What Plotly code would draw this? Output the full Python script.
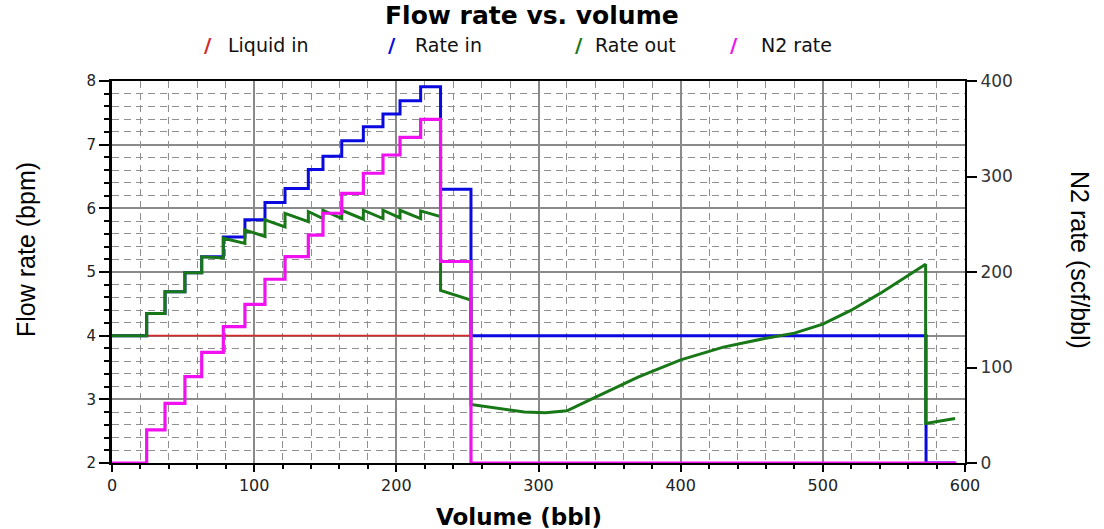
import plotly.graph_objects as go

# ---- data ----
# Step boundaries (bbl) shared by the injection schedule
step_x = [0, 24.4, 37.3, 51.3, 63.1, 78.3, 93.5, 107.6, 121.7, 138.1, 148.4,
          161.6, 176.8, 190.6, 202.6, 217.1, 231.1, 252.5]

# Liquid in (bpm)
liquid_x = [0, 252.5]
liquid_y = [4.0, 4.0]

# Rate in (bpm), step ("hv") series
rate_in_x = step_x + [572.6, 593]
rate_in_y = [4.0, 4.35, 4.69, 4.99, 5.24, 5.55, 5.82, 6.09, 6.31, 6.61, 6.82,
             7.06, 7.28, 7.48, 7.69, 7.91, 6.30, 4.0, 2.0, 2.0]

# N2 rate (scf/bbl), step ("hv") series on right axis
n2_x = step_x + [594]
n2_y = [0, 34.6, 62.5, 90.4, 115.9, 142.7, 166.2, 192.4, 216, 238.7, 261.5,
        282.4, 303.4, 322.5, 341, 359.9, 211, 0, 0]

# Rate out (bpm)
rate_out_x = [0, 24.4, 24.4, 37.3, 37.3, 51.3, 51.3, 63.1, 63.1, 78.3, 78.3,
              93.5, 93.5, 107.6, 107.6, 121.7, 121.7, 138.1, 138.1, 148.4, 148.4,
              161.6, 161.6, 176.8, 176.8, 190.6, 190.6, 202.6, 202.6, 217.1, 217.1,
              231.1, 231.1, 252.5, 252.5, 270, 290, 305, 320, 335, 350, 370, 400,
              430, 460, 480, 500, 520, 540, 555, 572.3, 572.3, 593]
rate_out_y = [4.0, 4.0, 4.35, 4.35, 4.69, 4.69, 4.99, 4.99, 5.24, 5.22, 5.53,
              5.45, 5.66, 5.56, 5.82, 5.71, 5.92, 5.79, 5.95, 5.84, 5.97,
              5.84, 5.97, 5.83, 5.97, 5.84, 5.97, 5.85, 5.97, 5.84, 5.96,
              5.87, 4.71, 4.56, 2.92, 2.86, 2.80, 2.79, 2.82, 2.98, 3.14, 3.35, 3.62,
              3.82, 3.96, 4.04, 4.18, 4.40, 4.66, 4.87, 5.12, 2.62, 2.70]

series_names = ["Liquid in", "Rate in", "Rate out", "N2 rate"]
series_colors = ["#d42a2a", "#0a0ae0", "#187818", "#f010f0"]

x_ticks = [0, 100, 200, 300, 400, 500, 600]
left_ticks = [2, 3, 4, 5, 6, 7, 8]
right_ticks = [0, 100, 200, 300, 400]

# ---- figure ----
fig = go.Figure()
fig.add_trace(go.Scatter(x=liquid_x, y=liquid_y, mode="lines", name=series_names[0],
                         line=dict(color=series_colors[0], width=1.6)))
fig.add_trace(go.Scatter(x=rate_in_x, y=rate_in_y, mode="lines", name=series_names[1],
                         line=dict(color=series_colors[1], width=3, shape="hv")))
fig.add_trace(go.Scatter(x=rate_out_x, y=rate_out_y, mode="lines", name=series_names[2],
                         line=dict(color=series_colors[2], width=3)))
fig.add_trace(go.Scatter(x=n2_x, y=n2_y, mode="lines", name=series_names[3], yaxis="y2",
                         line=dict(color=series_colors[3], width=3.2, shape="hv")))

L, R, T, B = 112, 139, 81, 66
W, H = 1104, 529
pw, ph = W - L - R, H - T - B


def px(xp):
    return (xp - L) / pw


def py(yp):
    return (H - B - yp) / ph


tick_font = dict(family="DejaVu Sans", size=15, color="#222")
grid_dash = "7px,5px"

fig.update_layout(
    width=W, height=H,
    margin=dict(l=L, r=R, t=T, b=B),
    paper_bgcolor="white", plot_bgcolor="white",
    showlegend=False,
    xaxis=dict(range=[0, 600], tickvals=x_ticks, ticks="outside", ticklen=7,
               tickcolor="black", tickwidth=1.5, showline=True, linecolor="black",
               linewidth=2, mirror=True, showgrid=True, gridcolor="#8a8a8a",
               gridwidth=1.5, zeroline=False, tickfont=dict(family="DejaVu Sans", size=16, color="#222"),
               minor=dict(dtick=20, ticks="outside", ticklen=4, tickcolor="black",
                          showgrid=True, gridcolor="#8f8f8f", griddash=grid_dash,
                          gridwidth=1.2)),
    yaxis=dict(range=[2, 8], tickvals=left_ticks, ticks="outside", ticklen=10,
               tickcolor="black", tickwidth=1.5, showline=True, linecolor="black",
               linewidth=3, showgrid=True, gridcolor="#8a8a8a", gridwidth=1.5,
               zeroline=False, tickfont=tick_font,
               minor=dict(dtick=0.2, ticks="outside", ticklen=5, tickcolor="black",
                          showgrid=True, gridcolor="#8f8f8f", griddash=grid_dash,
                          gridwidth=1.2)),
    yaxis2=dict(range=[0, 400], tickvals=right_ticks, overlaying="y", side="right",
                ticks="outside", ticklen=10, tickcolor="black", tickwidth=1.5,
                showline=True, linecolor="black", linewidth=2, showgrid=False,
                zeroline=False, tickfont=dict(family="DejaVu Sans", size=17, color="#333")),
)

ann = []
ann.append(dict(text="<b>Flow rate vs. volume</b>", x=px(532), y=py(16), xref="paper",
                yref="paper", showarrow=False, xanchor="center", yanchor="middle",
                font=dict(family="DejaVu Sans", size=25, color="black")))
legend_pos = [(208, 226), (392, 413), (579, 593), (734, 759)]
for (sx, lx), name, col in zip(legend_pos, series_names, series_colors):
    ann.append(dict(text="<b>/</b>", x=px(sx), y=py(45), xref="paper", yref="paper",
                    showarrow=False, xanchor="center", yanchor="middle",
                    font=dict(family="DejaVu Sans", size=20, color=col)))
    ann.append(dict(text=name, x=px(lx), y=py(45), xref="paper", yref="paper",
                    showarrow=False, xanchor="left", yanchor="middle",
                    font=dict(family="DejaVu Sans", size=19, color="#111")))
ann.append(dict(text="Flow rate (bpm)", x=px(26), y=py(250), xref="paper", yref="paper",
                showarrow=False, textangle=-90, xanchor="center", yanchor="middle",
                font=dict(family="Liberation Sans", size=25, color="black")))
ann.append(dict(text="N2 rate (scf/bbl)", x=px(1080), y=py(260), xref="paper", yref="paper",
                showarrow=False, textangle=90, xanchor="center", yanchor="middle",
                font=dict(family="Liberation Sans", size=25, color="black")))
ann.append(dict(text="<b>Volume (bbl)</b>", x=px(519), y=py(517), xref="paper", yref="paper",
                showarrow=False, xanchor="center", yanchor="middle",
                font=dict(family="DejaVu Sans", size=23, color="black")))
fig.update_layout(annotations=ann)

fig.write_html("out.html")
